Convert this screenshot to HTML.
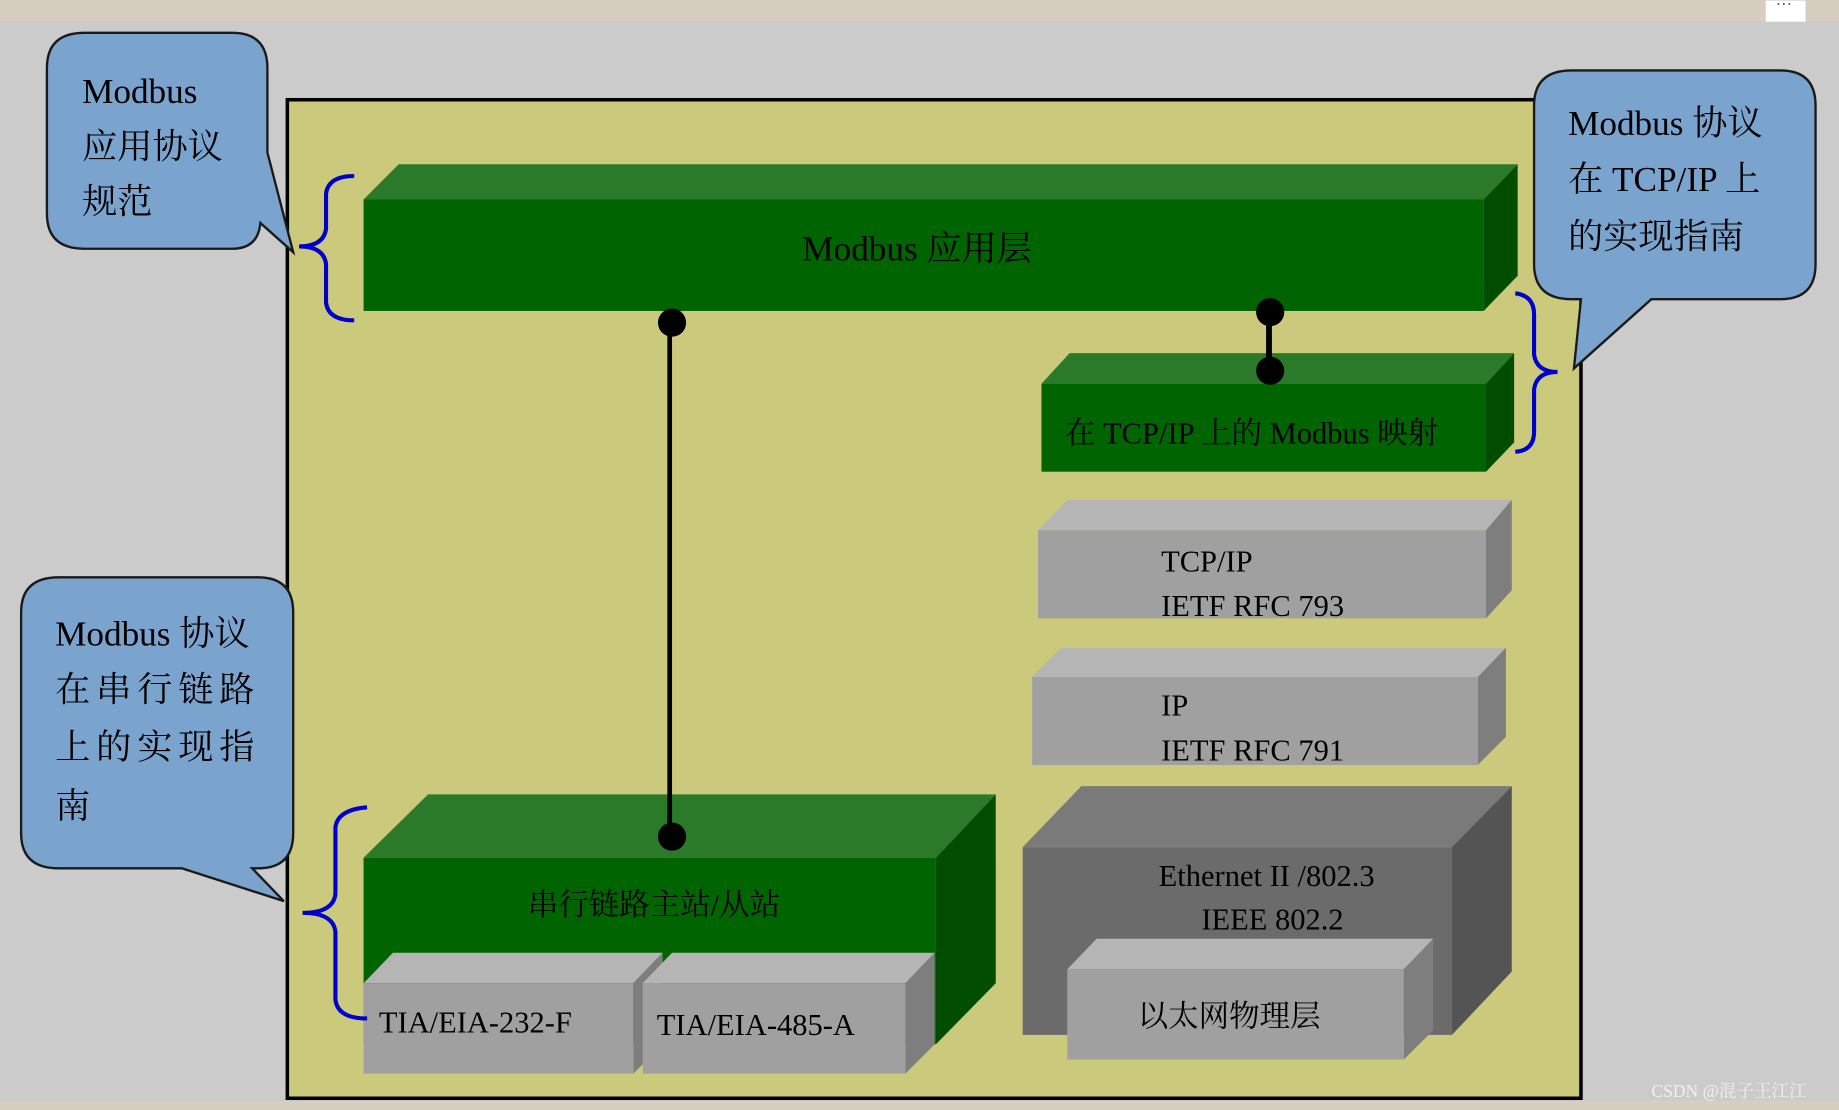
<!DOCTYPE html>
<html><head><meta charset="utf-8"><style>
html,body{margin:0;padding:0;width:1839px;height:1110px;overflow:hidden;background:#cbcbcb}
svg{display:block}
text{font-family:"Liberation Serif","Noto Serif CJK SC","Noto Sans CJK SC",serif;}
</style></head><body>
<svg width="1839" height="1110" viewBox="0 0 1568 946" preserveAspectRatio="none" xmlns="http://www.w3.org/2000/svg">
<rect x="0" y="0" width="1568" height="946" fill="#cbcbcb"/>
<rect x="0" y="0" width="1568" height="18" fill="#d6cfc0"/>
<rect x="0" y="938" width="1568" height="8" fill="#d6cfc0"/>
<rect x="1505" y="0" width="35" height="19" fill="#fff" stroke="#ccc"/>
<text x="1514" y="8" font-size="14" fill="#555">···</text>
<rect x="245" y="85" width="1103" height="851" fill="#cbca7c" stroke="#000" stroke-width="3"/>

<!-- Modbus app layer -->
<polygon points="310,170 340,140 1294,140 1265,170" fill="#2a7a2a"/>
<polygon points="1265,170 1294,140 1294,235 1265,265" fill="#004d00"/>
<rect x="310" y="170" width="955" height="95" fill="#006400"/>
<text x="782" y="222" font-size="30" text-anchor="middle" fill="#000">Modbus 应用层</text>

<!-- TCP mapping -->
<polygon points="888,327 912,301 1291,301 1267,327" fill="#2a7a2a"/>
<polygon points="1267,327 1291,301 1291,377 1267,402" fill="#004d00"/>
<rect x="888" y="327" width="379" height="75" fill="#006400"/>
<text x="908" y="378" font-size="26" fill="#000">在 TCP/IP 上的 Modbus 映射</text>

<!-- TCP/IP -->
<polygon points="885,452 910,426 1289,426 1267,452" fill="#b5b5b5"/>
<polygon points="1267,452 1289,426 1289,503 1267,527" fill="#7e7e7e"/>
<rect x="885" y="452" width="382" height="75" fill="#a0a0a0"/>
<text x="990" y="487" font-size="26" fill="#000">TCP/IP</text>
<text x="990" y="525" font-size="26" fill="#000">IETF RFC 793</text>

<!-- IP -->
<polygon points="880,577 905,552 1284,552 1260,577" fill="#b5b5b5"/>
<polygon points="1260,577 1284,552 1284,628 1260,652" fill="#7e7e7e"/>
<rect x="880" y="577" width="380" height="75" fill="#a0a0a0"/>
<text x="990" y="610" font-size="26" fill="#000">IP</text>
<text x="990" y="648" font-size="26" fill="#000">IETF RFC 791</text>

<!-- Ethernet -->
<polygon points="872,722 922,670 1289,670 1238,722" fill="#7a7a7a"/>
<polygon points="1238,722 1289,670 1289,828 1238,882" fill="#545454"/>
<rect x="872" y="722" width="366" height="160" fill="#6b6b6b"/>
<text x="1080" y="755" font-size="26" text-anchor="middle" fill="#000">Ethernet II /802.3</text>
<text x="1085" y="792" font-size="26" text-anchor="middle" fill="#000">IEEE 802.2</text>
<polygon points="910,826 935,800 1222,800 1197,826" fill="#b5b5b5"/>
<polygon points="1197,826 1222,800 1222,878 1197,903" fill="#7e7e7e"/>
<rect x="910" y="826" width="287" height="77" fill="#a0a0a0"/>
<text x="970" y="875" font-size="26" fill="#000">以太网物理层</text>

<!-- Serial -->
<polygon points="310,731 365,677 849,677 798,731" fill="#2a7a2a"/>
<polygon points="798,731 849,677 849,838 798,890" fill="#004d00"/>
<rect x="310" y="731" width="488" height="159" fill="#006400"/>
<text x="450" y="780" font-size="26" fill="#000">串行链路主站/从站</text>

<polygon points="310,838 335,812 565,812 540,838" fill="#b5b5b5"/>
<polygon points="540,838 565,812 565,890 540,915" fill="#7e7e7e"/>
<rect x="310" y="838" width="230" height="77" fill="#a0a0a0"/>
<text x="323" y="880" font-size="26" fill="#000">TIA/EIA-232-F</text>

<polygon points="548,838 573,812 797,812 772,838" fill="#b5b5b5"/>
<polygon points="772,838 797,812 797,890 772,915" fill="#7e7e7e"/>
<rect x="548" y="838" width="224" height="77" fill="#a0a0a0"/>
<text x="560" y="882" font-size="26" fill="#000">TIA/EIA-485-A</text>

<!-- connectors -->
<line x1="571" y1="275" x2="571" y2="713" stroke="#000" stroke-width="4"/>
<circle cx="573" cy="275" r="12" fill="#000"/>
<circle cx="573" cy="713" r="12" fill="#000"/>
<line x1="1082" y1="266" x2="1082" y2="316" stroke="#000" stroke-width="5"/>
<circle cx="1083" cy="266" r="12" fill="#000"/>
<circle cx="1083" cy="316" r="12" fill="#000"/>

<!-- brackets -->
<g fill="none" stroke="#0000cc" stroke-width="3.5">
<path d="M302,150 Q280,150 278,165 L278,195 Q276,210 255,210 Q276,210 278,225 L278,258 Q280,273 302,273"/>
<path d="M1292,250 Q1308,252 1308,268 L1308,302 Q1310,317 1328,317 Q1310,317 1308,332 L1308,368 Q1308,384 1292,385"/>
<path d="M313,688 Q288,690 286,705 L286,762 Q284,778 258,778 Q284,778 286,794 L286,852 Q288,868 313,868"/>
</g>

<!-- callouts -->
<g fill="#7aa3cd" stroke="#1a1a1a" stroke-width="2">
<path d="M72,28 L198,28 Q228,28 228,58 L228,130 L250,215 L222,190 Q220,212 198,212 L72,212 Q40,212 40,182 L40,58 Q40,28 72,28 Z"/>
<path d="M1340,60 L1518,60 Q1548,60 1548,90 L1548,225 Q1548,255 1518,255 L1408,255 L1342,314 L1348,255 L1340,255 Q1308,255 1308,225 L1308,90 Q1308,60 1340,60 Z"/>
<path d="M50,492 L220,492 Q250,492 250,522 L250,710 Q250,740 220,740 L215,740 L242,768 L155,740 L50,740 Q18,740 18,710 L18,522 Q18,492 50,492 Z"/>
</g>
<g font-size="30" fill="#000">
<text x="70" y="88">Modbus</text>
<text x="70" y="135">应用协议</text>
<text x="70" y="182">规范</text>
<text x="1337" y="115">Modbus 协议</text>
<text x="1337" y="163">在 TCP/IP 上</text>
<text x="1337" y="212">的实现指南</text>
<text x="47" y="550">Modbus 协议</text>
<text x="47" y="598" letter-spacing="5">在串行链路</text>
<text x="47" y="647" letter-spacing="5">上的实现指</text>
<text x="47" y="697">南</text>
</g>
<text x="1408" y="935" font-size="15" fill="#f0f0f0" font-family="Liberation Sans,Noto Sans CJK SC,sans-serif">CSDN @混子王江江</text>
</svg>
</body></html>
